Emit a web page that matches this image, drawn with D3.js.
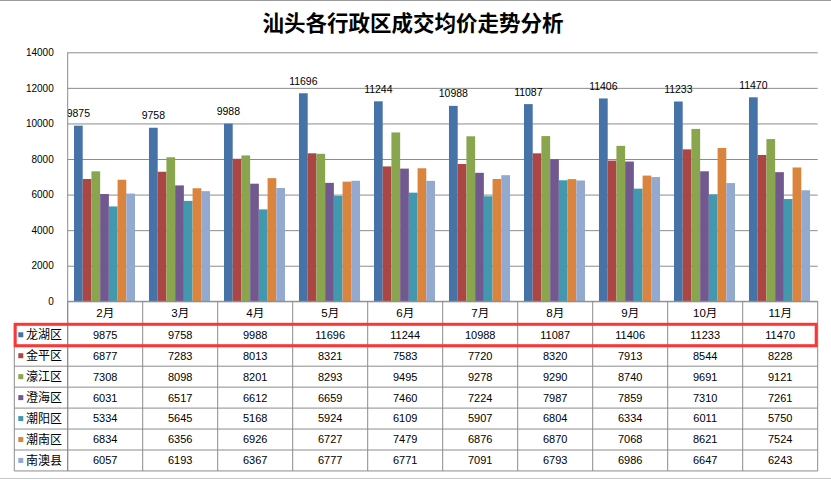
<!DOCTYPE html>
<html><head><meta charset="utf-8">
<script src="https://cdn.jsdelivr.net/npm/d3@7"></script>
<style>
html,body{margin:0;padding:0;background:#fff;}
svg{display:block;}
</style></head>
<body>
<svg id="chart" width="831" height="480"></svg>
<script>
const title = "汕头各行政区成交均价走势分析";
const months = ["2月","3月","4月","5月","6月","7月","8月","9月","10月","11月"];
const seriesNames = ["龙湖区","金平区","濠江区","澄海区","潮阳区","潮南区","南澳县"];
const longhu  = [9875, 9758, 9988, 11696, 11244, 10988, 11087, 11406, 11233, 11470];
const jinping = [6877, 7283, 8013, 8321, 7583, 7720, 8320, 7913, 8544, 8228];
const haojiang= [7308, 8098, 8201, 8293, 9495, 9278, 9290, 8740, 9691, 9121];
const chenghai= [6031, 6517, 6612, 6659, 7460, 7224, 7987, 7859, 7310, 7261];
const chaoyang= [5334, 5645, 5168, 5924, 6109, 5907, 6804, 6334, 6011, 5750];
const chaonan = [6834, 6356, 6926, 6727, 7479, 6876, 6870, 7068, 8621, 7524];
const nanao   = [6057, 6193, 6367, 6777, 6771, 7091, 6793, 6986, 6647, 6243];
const yTicks = [0, 2000, 4000, 6000, 8000, 10000, 12000, 14000];
const colors = ["#4572A7","#AA4643","#89A54E","#71588F","#4198AF","#DB843D","#93A9CF"];

(function(){
const seriesValues = [longhu, jinping, haojiang, chenghai, chaoyang, chaonan, nanao];
const series = seriesNames.map((n,i)=>({name:n, values:seriesValues[i], color:colors[i]}));

const svg = d3.select("#chart");
const W = 831, H = 480;
const pLeft = 67.7, pRight = 817.7, pTop = 52.3, pBottom = 301.3;
const rowH = 20.95, headerH = 23, tableLeft = 14.3;
const numFont = "'Liberation Sans', Arial, sans-serif";
const cjkFont = "'Liberation Sans', 'Noto Sans CJK SC', sans-serif";
const grid = "#8c8c8c";

svg.append("line").attr("x1",0).attr("x2",W).attr("y1",0.5).attr("y2",0.5).attr("stroke","#9a9a9a");
svg.append("line").attr("x1",0).attr("x2",W).attr("y1",478.5).attr("y2",478.5).attr("stroke","#c8c8c8");

svg.append("text").attr("x",413).attr("y",31).attr("text-anchor","middle")
  .attr("font-family","'Noto Sans CJK SC', sans-serif").attr("font-weight","bold")
  .attr("font-size",21.5).attr("fill","#000").text(title);

const x0 = d3.scaleBand().domain(months).range([pLeft, pRight]).paddingInner(0).paddingOuter(0);
const x1 = d3.scaleBand().domain(seriesNames).range([0, x0.bandwidth()])
  .paddingInner(0).paddingOuter(0.8).align(0.45);
const y = d3.scaleLinear().domain([0, 14000]).range([pBottom, pTop]);

const yAxis = d3.axisLeft(y).tickValues(yTicks).tickSize(-(pRight-pLeft)).tickFormat(d=>d).tickPadding(14);
const ga = svg.append("g").attr("transform",`translate(${pLeft},0)`).call(yAxis);
ga.select(".domain").remove();
ga.selectAll(".tick line").attr("stroke",grid).attr("stroke-width",1);
ga.selectAll(".tick text").attr("font-family",numFont).attr("font-size",10).attr("fill","#000");

const groups = svg.append("g").selectAll("g").data(months).join("g")
  .attr("transform",d=>`translate(${x0(d)},0)`);
groups.selectAll("rect").data((m,i)=>series.map(s=>({name:s.name, v:s.values[i], color:s.color})))
  .join("rect")
  .attr("x",d=>x1(d.name)).attr("width",x1.bandwidth())
  .attr("y",d=>y(d.v)).attr("height",d=>pBottom-y(d.v))
  .attr("fill",d=>d.color);

svg.append("g").selectAll("text").data(months).join("text")
  .attr("x",(m)=>x0(m)+x1(seriesNames[0])+x1.bandwidth()/2)
  .attr("y",(m,i)=>y(longhu[i])-8.5)
  .attr("text-anchor","middle").attr("font-family",numFont).attr("font-size",10.5).attr("fill","#000")
  .text((m,i)=>longhu[i]);

const tableBottom = pBottom + headerH + rowH*series.length;
svg.append("line").attr("x1",pLeft).attr("x2",pLeft).attr("y1",pTop).attr("y2",tableBottom).attr("stroke",grid);

const tbl = svg.append("g");
tbl.append("line").attr("x1",pLeft).attr("x2",pRight).attr("y1",pBottom).attr("y2",pBottom).attr("stroke",grid);
const rowYs = d3.range(series.length+1).map(i=>pBottom+headerH+i*rowH);
tbl.selectAll("line.row").data(rowYs).join("line").attr("class","row")
  .attr("x1",tableLeft).attr("x2",pRight).attr("y1",d=>d).attr("y2",d=>d).attr("stroke",grid);
const vx = months.map(m=>x0(m)).concat([pRight]);
tbl.selectAll("line.col").data(vx).join("line").attr("class","col")
  .attr("x1",d=>d).attr("x2",d=>d).attr("y1",pBottom).attr("y2",tableBottom).attr("stroke",grid);
tbl.append("line").attr("x1",tableLeft).attr("x2",tableLeft).attr("y1",pBottom+headerH).attr("y2",tableBottom).attr("stroke",grid);

tbl.selectAll("text.month").data(months).join("text").attr("class","month")
  .attr("x",d=>x0(d)+x0.bandwidth()/2).attr("y",pBottom+headerH/2+1)
  .attr("dominant-baseline","middle").attr("text-anchor","middle")
  .attr("font-family",cjkFont).attr("font-size",11.5).attr("fill","#000").text(d=>d);

series.forEach((s,si)=>{
  const cy = pBottom+headerH+si*rowH+rowH/2;
  tbl.append("rect").attr("x",18.3).attr("y",cy-2.5).attr("width",5).attr("height",5).attr("fill",s.color);
  tbl.append("text").attr("x",26).attr("y",cy+1).attr("dominant-baseline","middle")
    .attr("font-family","'Noto Sans CJK SC', sans-serif").attr("font-size",12).attr("fill","#000").text(s.name);
  tbl.selectAll(null).data(s.values).join("text")
    .attr("x",(v,i)=>x0(months[i])+x0.bandwidth()/2).attr("y",cy+1)
    .attr("dominant-baseline","middle").attr("text-anchor","middle")
    .attr("font-family",numFont).attr("font-size",11).attr("fill","#000").text(v=>v);
});

svg.append("rect").attr("x",15.2).attr("y",pBottom+headerH).attr("width",801).attr("height",rowH+0.5)
  .attr("fill","none").attr("stroke","#FF3535").attr("stroke-width",3);
})();
</script>
</body></html>
